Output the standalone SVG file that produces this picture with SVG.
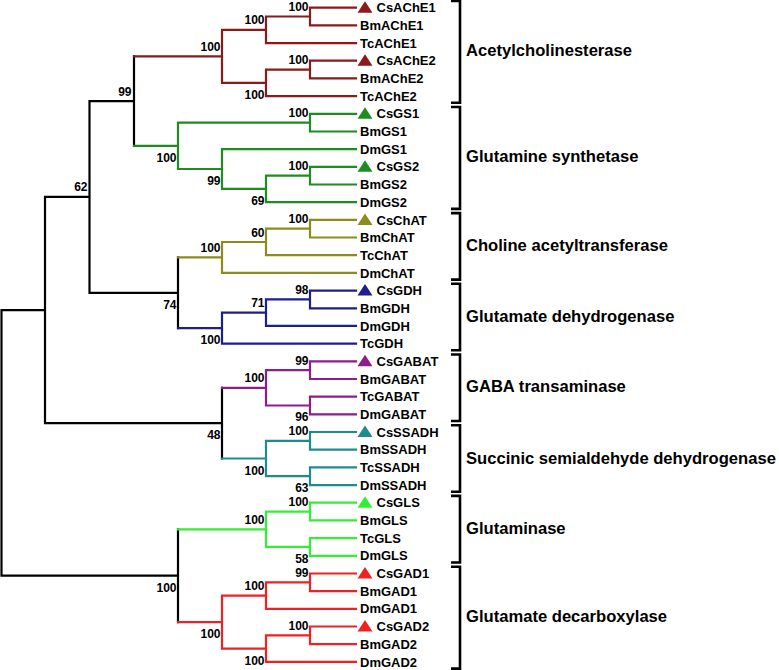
<svg xmlns="http://www.w3.org/2000/svg" width="779" height="670" viewBox="0 0 779 670">
<style>
.b{fill:none;stroke-width:2.2;stroke-linecap:square;stroke-linejoin:miter}
.k{stroke:#000}
.ache{stroke:#8b1a1a}.gs{stroke:#1e8c1e}.chat{stroke:#8c8c1e}.gdh{stroke:#1e1e8c}
.gabat{stroke:#8c1e8c}.ssadh{stroke:#1e8c8c}.gls{stroke:#33ee33}.gad{stroke:#ee2222}
.leaf{font-family:"Liberation Sans",Arial,Helvetica,sans-serif;font-weight:bold;font-size:13px;fill:#000}
.bs{font-family:"Liberation Sans",Arial,Helvetica,sans-serif;font-weight:bold;font-size:12px;fill:#000;text-anchor:end}
.grp{font-family:"Liberation Sans",Arial,Helvetica,sans-serif;font-weight:bold;font-size:16.6px;fill:#000}
.br{fill:none;stroke:#000;stroke-width:2.6}
</style>
<rect width="779" height="670" fill="#fff"/>
<g id="connectors">
<path class="b k" d="M1.5,310.1V575.7M1.5,310.1H45M1.5,575.7H178M45,196.9V423.2M45,196.9H89.5M45,423.2H222M89.5,101.1V292.8M89.5,101.1H134M89.5,292.8H178M134,56.3V145.8M178,257.4V328.1M222,387.8V458.5M178,529.3V622.1"/>
<path class="b ache" d="M134,56.3H222M222,29.8V82.8M222,29.8H266M222,82.8H266M266,16.5V43.1M266,16.5H310M266,43.1H356M310,7.7V25.4M310,7.7H356M310,25.4H356M266,69.6V96.1M266,69.6H310M266,96.1H356M310,60.7V78.4M310,60.7H356M310,78.4H356"/>
<path class="b gs" d="M134,145.8H178M178,122.6V169M178,122.6H310M178,169H222M310,113.8V131.5M310,113.8H356M310,131.5H356M222,149.1V188.9M222,149.1H356M222,188.9H266M266,175.7V202.2M266,175.7H310M266,202.2H356M310,166.8V184.5M310,166.8H356M310,184.5H356"/>
<path class="b chat" d="M178,257.4H222M222,242V272.9M222,242H266M222,272.9H356M266,228.7V255.2M266,228.7H310M266,255.2H356M310,219.9V237.5M310,219.9H356M310,237.5H356"/>
<path class="b gdh" d="M178,328.1H222M222,312.7V343.6M222,312.7H266M222,343.6H356M266,299.4V325.9M266,299.4H310M266,325.9H356M310,290.6V308.3M310,290.6H356M310,308.3H356"/>
<path class="b gabat" d="M222,387.8H266M266,370.1V405.5M266,370.1H310M266,405.5H310M310,361.3V379M310,361.3H356M310,379H356M310,396.7V414.3M310,396.7H356M310,414.3H356"/>
<path class="b ssadh" d="M222,458.5H266M266,440.9V476.2M266,440.9H310M266,476.2H310M310,432V449.7M310,432H356M310,449.7H356M310,467.4V485.1M310,467.4H356M310,485.1H356"/>
<path class="b gls" d="M178,529.3H266M266,511.6V546.9M266,511.6H310M266,546.9H310M310,502.7V520.4M310,502.7H356M310,520.4H356M310,538.1V555.8M310,538.1H356M310,555.8H356"/>
<path class="b gad" d="M178,622.1H222M222,595.6V648.6M222,595.6H266M222,648.6H266M266,582.3V608.8M266,582.3H310M266,608.8H356M310,573.5V591.1M310,573.5H356M310,591.1H356M266,635.3V661.9M266,635.3H310M266,661.9H356M310,626.5V644.2M310,626.5H356M310,644.2H356"/>
</g>
<g id="bootstrap">
<text class="bs" x="308.5" y="11">100</text>
<text class="bs" x="264.5" y="24.3">100</text>
<text class="bs" x="220.5" y="50.8">100</text>
<text class="bs" x="308.5" y="64.1">100</text>
<text class="bs" x="264.5" y="99">100</text>
<text class="bs" x="131.5" y="95.6">99</text>
<text class="bs" x="308.5" y="116.9">100</text>
<text class="bs" x="176.5" y="162">100</text>
<text class="bs" x="220.5" y="185.2">99</text>
<text class="bs" x="308.5" y="170.2">100</text>
<text class="bs" x="264.5" y="205.1">69</text>
<text class="bs" x="87.5" y="191.4">62</text>
<text class="bs" x="308.5" y="223.2">100</text>
<text class="bs" x="264.5" y="236.5">60</text>
<text class="bs" x="220.5" y="251.9">100</text>
<text class="bs" x="176.5" y="309">74</text>
<text class="bs" x="308.5" y="293.9">98</text>
<text class="bs" x="264.5" y="307.2">71</text>
<text class="bs" x="220.5" y="344.3">100</text>
<text class="bs" x="308.5" y="364.6">99</text>
<text class="bs" x="264.5" y="382.3">100</text>
<text class="bs" x="308.5" y="421.2">96</text>
<text class="bs" x="220.5" y="439.4">48</text>
<text class="bs" x="308.5" y="435.4">100</text>
<text class="bs" x="264.5" y="474.7">100</text>
<text class="bs" x="308.5" y="492.4">63</text>
<text class="bs" x="308.5" y="506.1">100</text>
<text class="bs" x="264.5" y="523.8">100</text>
<text class="bs" x="308.5" y="563.1">58</text>
<text class="bs" x="308.5" y="576.8">99</text>
<text class="bs" x="264.5" y="590.1">100</text>
<text class="bs" x="176.5" y="591.9">100</text>
<text class="bs" x="220.5" y="638.3">100</text>
<text class="bs" x="308.5" y="629.8">100</text>
<text class="bs" x="264.5" y="664.8">100</text>
</g>
<g id="leaves">
<g id="CsAChE1"><polygon points="357.5,12.7 365,1.2 372.5,12.7" fill="#8b1a1a"/><text class="leaf" x="376.5" y="12.3">CsAChE1</text></g>
<g id="BmAChE1"><text class="leaf" x="360" y="30">BmAChE1</text></g>
<g id="TcAChE1"><text class="leaf" x="360" y="47.7">TcAChE1</text></g>
<g id="CsAChE2"><polygon points="357.5,65.7 365,54.2 372.5,65.7" fill="#8b1a1a"/><text class="leaf" x="376.5" y="65.3">CsAChE2</text></g>
<g id="BmAChE2"><text class="leaf" x="360" y="83">BmAChE2</text></g>
<g id="TcAChE2"><text class="leaf" x="360" y="100.7">TcAChE2</text></g>
<g id="CsGS1"><polygon points="357.5,118.8 365,107.3 372.5,118.8" fill="#1e8c1e"/><text class="leaf" x="376.5" y="118.4">CsGS1</text></g>
<g id="BmGS1"><text class="leaf" x="360" y="136.1">BmGS1</text></g>
<g id="DmGS1"><text class="leaf" x="360" y="153.7">DmGS1</text></g>
<g id="CsGS2"><polygon points="357.5,171.8 365,160.3 372.5,171.8" fill="#1e8c1e"/><text class="leaf" x="376.5" y="171.4">CsGS2</text></g>
<g id="BmGS2"><text class="leaf" x="360" y="189.1">BmGS2</text></g>
<g id="DmGS2"><text class="leaf" x="360" y="206.8">DmGS2</text></g>
<g id="CsChAT"><polygon points="357.5,224.9 365,213.4 372.5,224.9" fill="#8c8c1e"/><text class="leaf" x="376.5" y="224.5">CsChAT</text></g>
<g id="BmChAT"><text class="leaf" x="360" y="242.1">BmChAT</text></g>
<g id="TcChAT"><text class="leaf" x="360" y="259.8">TcChAT</text></g>
<g id="DmChAT"><text class="leaf" x="360" y="277.5">DmChAT</text></g>
<g id="CsGDH"><polygon points="357.5,295.6 365,284.1 372.5,295.6" fill="#1e1e8c"/><text class="leaf" x="376.5" y="295.2">CsGDH</text></g>
<g id="BmGDH"><text class="leaf" x="360" y="312.9">BmGDH</text></g>
<g id="DmGDH"><text class="leaf" x="360" y="330.5">DmGDH</text></g>
<g id="TcGDH"><text class="leaf" x="360" y="348.2">TcGDH</text></g>
<g id="CsGABAT"><polygon points="357.5,366.3 365,354.8 372.5,366.3" fill="#8c1e8c"/><text class="leaf" x="376.5" y="365.9">CsGABAT</text></g>
<g id="BmGABAT"><text class="leaf" x="360" y="383.6">BmGABAT</text></g>
<g id="TcGABAT"><text class="leaf" x="360" y="401.3">TcGABAT</text></g>
<g id="DmGABAT"><text class="leaf" x="360" y="418.9">DmGABAT</text></g>
<g id="CsSSADH"><polygon points="357.5,437 365,425.5 372.5,437" fill="#1e8c8c"/><text class="leaf" x="376.5" y="436.6">CsSSADH</text></g>
<g id="BmSSADH"><text class="leaf" x="360" y="454.3">BmSSADH</text></g>
<g id="TcSSADH"><text class="leaf" x="360" y="472">TcSSADH</text></g>
<g id="DmSSADH"><text class="leaf" x="360" y="489.7">DmSSADH</text></g>
<g id="CsGLS"><polygon points="357.5,507.7 365,496.2 372.5,507.7" fill="#33ee33"/><text class="leaf" x="376.5" y="507.3">CsGLS</text></g>
<g id="BmGLS"><text class="leaf" x="360" y="525">BmGLS</text></g>
<g id="TcGLS"><text class="leaf" x="360" y="542.7">TcGLS</text></g>
<g id="DmGLS"><text class="leaf" x="360" y="560.4">DmGLS</text></g>
<g id="CsGAD1"><polygon points="357.5,578.5 365,567 372.5,578.5" fill="#ee2222"/><text class="leaf" x="376.5" y="578.1">CsGAD1</text></g>
<g id="BmGAD1"><text class="leaf" x="360" y="595.7">BmGAD1</text></g>
<g id="DmGAD1"><text class="leaf" x="360" y="613.4">DmGAD1</text></g>
<g id="CsGAD2"><polygon points="357.5,631.5 365,620 372.5,631.5" fill="#ee2222"/><text class="leaf" x="376.5" y="631.1">CsGAD2</text></g>
<g id="BmGAD2"><text class="leaf" x="360" y="648.8">BmGAD2</text></g>
<g id="DmGAD2"><text class="leaf" x="360" y="666.5">DmGAD2</text></g>
</g>
<g id="groups">
<g id="grp-ache"><path class="br" d="M451,0.9H460V102.8H451"/><text class="grp" x="466" y="56.3">Acetylcholinesterase</text></g>
<g id="grp-gs"><path class="br" d="M451,107H460V208.9H451"/><text class="grp" x="466" y="162.3">Glutamine synthetase</text></g>
<g id="grp-chat"><path class="br" d="M451,213.1H460V279.6H451"/><text class="grp" x="466" y="250.8">Choline acetyltransferase</text></g>
<g id="grp-gdh"><path class="br" d="M451,283.8H460V350.3H451"/><text class="grp" x="466" y="321.6">Glutamate dehydrogenase</text></g>
<g id="grp-gabat"><path class="br" d="M451,354.5H460V421H451"/><text class="grp" x="466" y="392.1">GABA transaminase</text></g>
<g id="grp-ssadh"><path class="br" d="M451,425.2H460V491.8H451"/><text class="grp" x="466" y="463.5">Succinic semialdehyde dehydrogenase</text></g>
<g id="grp-gls"><path class="br" d="M451,495.9H460V562.5H451"/><text class="grp" x="466" y="534">Glutaminase</text></g>
<g id="grp-gad"><path class="br" d="M451,566.7H460V668.6H451"/><text class="grp" x="466" y="622.1">Glutamate decarboxylase</text></g>
</g>
</svg>
